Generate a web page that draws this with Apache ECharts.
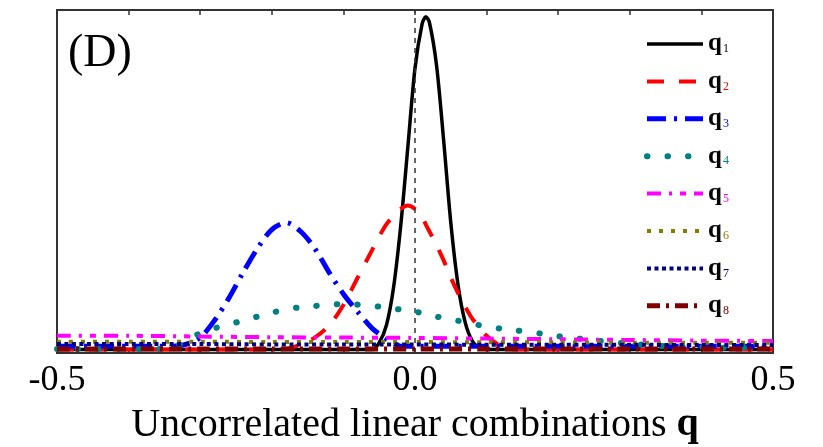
<!DOCTYPE html>
<html>
<head>
<meta charset="utf-8">
<script src="https://cdn.jsdelivr.net/npm/echarts@6/dist/echarts.min.js"></script>
<style>
html,body{margin:0;padding:0;background:#fff;}
#chart{width:823px;height:447px;}
</style>
</head>
<body>
<div id="chart"></div>
<script>
// Shared q grid for the peaked curves
const qGrid = [-0.5,-0.45,-0.4,-0.36,-0.34,-0.32,-0.30,-0.28,-0.26,-0.24,-0.22,-0.20,-0.18,-0.16,-0.14,-0.12,-0.10,-0.08,-0.06,-0.05,-0.04,-0.03,-0.02,-0.01,0,0.01,0.015,0.02,0.03,0.04,0.05,0.06,0.07,0.08,0.09,0.10,0.12,0.14,0.16,0.18,0.20,0.22,0.26,0.30,0.35,0.40,0.45,0.5];

const q1Vals = [0.01,0.01,0.01,0.01,0.01,0.01,0.01,0.01,0.01,0.01,0.01,0.01,0.01,0.01,0.01,0.01,0.01,0.01,
  0.01,0.03,0.08,0.19,0.37,0.60,0.83,0.96,0.98,0.965,0.84,0.62,0.38,0.20,0.09,0.035,0.015,
  0.01,0.01,0.01,0.01,0.01,0.01,0.01,0.01,0.01,0.01,0.01,0.01,0.01];

const q2Vals = [0.01,0.01,0.01,0.01,0.01,0.01,0.01,0.01,0.01,0.01,0.01,0.01,
  0.012,0.025,0.045,0.08,0.14,0.22,0.30,0.34,0.375,0.40,0.42,0.43,0.42,0.395,0.375,0.355,0.315,0.27,0.22,0.175,0.135,0.10,0.075,0.05,0.02,
  0.01,0.01,0.01,0.01,0.01,0.01,0.01,0.01,0.01,0.01,0.01];

const q3Vals = [0.02,0.02,0.02,0.02,0.02,0.025,0.045,0.095,0.16,0.235,0.305,0.36,0.38,0.355,0.305,0.235,0.172,0.12,0.072,0.055,0.04,0.028,0.02,
  0.02,0.02,0.02,0.02,0.02,0.02,0.02,0.02,0.02,0.02,0.02,0.02,0.02,0.02,0.02,0.02,0.02,0.02,0.02,0.02,0.02,0.02,0.02,0.02,0.02];

const q4Vals = [0.012,0.012,0.012,0.012,0.015,0.035,0.058,0.072,0.083,0.095,0.106,0.117,0.128,0.133,0.137,0.14,0.143,0.141,0.137,0.135,0.131,0.129,0.127,0.125,
  0.121,0.116,0.113,0.11,0.106,0.102,0.098,0.094,0.09,0.086,0.081,0.077,0.071,0.066,0.062,0.055,0.049,0.044,0.035,0.027,0.02,0.017,0.015,0.015];

// Coarse grid for the flat baseline curves
const baseGrid = [-0.5,-0.4,-0.3,-0.2,-0.1,0,0.1,0.2,0.3,0.4,0.5];
const q5Vals = [0.050,0.050,0.048,0.046,0.045,0.044,0.042,0.040,0.038,0.036,0.035];
const q6Vals = [0.033,0.033,0.033,0.032,0.032,0.032,0.031,0.031,0.030,0.030,0.030];
const q7Vals = [0.026,0.026,0.026,0.025,0.025,0.025,0.024,0.024,0.024,0.023,0.023];
const q8Vals = [0.012,0.012,0.012,0.012,0.012,0.012,0.012,0.012,0.012,0.012,0.012];

const seriesNames = ['q1','q2','q3','q4','q5','q6','q7','q8'];
const seriesColors = ['#000000','#ff0000','#0000ff','#008080','#ff00ff','#808000','#000080','#800000'];
const xTickLabels = ['-0.5','0.0','0.5'];
const xTitle = 'Uncorrelated linear combinations ';
const panelLabel = '(D)';

const styles = [
  {width:3.5, type:'solid', cap:'butt'},
  {width:4, type:[17,15], cap:'butt'},
  {width:5, type:[19,8,3,8], cap:'butt'},
  {width:6, type:[0.5,20], cap:'round'},
  {width:4, type:[14,8,3,8,6,8], cap:'butt'},
  {width:4, type:[4,8], cap:'butt'},
  {width:4, type:[4,3.5], cap:'butt'},
  {width:5, type:[13,6,3,6], cap:'butt'}
];

function pairs(xs, ys){ return xs.map((x,i)=>[x, ys[i]]); }
const dataSets = [
  pairs(qGrid,q1Vals), pairs(qGrid,q2Vals), pairs(qGrid,q3Vals), pairs(qGrid,q4Vals),
  pairs(baseGrid,q5Vals), pairs(baseGrid,q6Vals), pairs(baseGrid,q7Vals), pairs(baseGrid,q8Vals)
];

const serif = 'Liberation Serif';
const rich = { q: {fontFamily: serif, fontWeight:'bold', fontSize:25, color:'#000', lineHeight:22} };
seriesNames.forEach((n,i)=>{
  rich['s'+(i+1)] = {fontFamily: serif, fontSize:12, color: seriesColors[i], padding:[13,0,0,1], lineHeight:22, verticalAlign:'bottom'};
});

const series = seriesNames.map((n,i)=>{
  const s = {
    name: n, type:'line', data: dataSets[i], smooth: 0.3,
    symbol:'circle', showSymbol:false,
    lineStyle: {color: seriesColors[i], width: styles[i].width, type: styles[i].type, cap: styles[i].cap},
    itemStyle: {color: seriesColors[i]},
    z: 2 + i
  };
  if (i === 0) {
    s.markLine = {
      symbol:'none', silent:true, label:{show:false},
      lineStyle:{type:[5,5], color:'#333', width:1.5},
      data:[{xAxis:0}]
    };
  }
  return s;
});

const chart = echarts.init(document.getElementById('chart'));
function isMajor(v){ return Math.round(v*10) % 5 === 0; }
chart.setOption({
  animation:false,
  backgroundColor:'#fff',
  grid:{left:57, right:50, top:10, bottom:94, show:true, borderColor:'#333', borderWidth:2, backgroundColor:'transparent', containLabel:false, outerBoundsMode:'none'},
  legend:{
    orient:'vertical', left:639, top:25, itemWidth:56, itemHeight:14, itemGap:10.9,
    data: seriesNames.map((n,i)=>({name:n, lineStyle:{width: styles[i].width}})),
    itemStyle:{opacity:0},
    lineStyle:{width:'inherit'},
    formatter: n => '{q|q}{s' + n.slice(1) + '|' + n.slice(1) + '}',
    textStyle:{rich: rich}
  },
  xAxis:[
    {type:'value', min:-0.5, max:0.5, interval:0.1, position:'bottom',
     axisLine:{show:true, lineStyle:{color:'#333', width:2}},
     axisTick:{show:true, inside:true, length:5, lineStyle:{color:'#333', width:1.5}},
     splitLine:{show:false},
     axisLabel:{margin:10, fontFamily:serif, fontSize:36, color:'#000',
       formatter: v => isMajor(v) ? xTickLabels[Math.round(v*10)/5 + 1] : ''},
     name: '{t|' + xTitle + '}{b|q}', nameLocation:'middle', nameGap:52,
     nameTextStyle:{rich:{t:{fontFamily:serif, fontSize:40, color:'#000'}, b:{fontFamily:serif, fontSize:40, fontWeight:'bold', color:'#000'}}}
    },
    {type:'value', min:-0.5, max:0.5, interval:0.1, position:'top',
     axisLine:{show:true, lineStyle:{color:'#333', width:2}},
     axisTick:{show:true, inside:true, length:5, lineStyle:{color:'#333', width:1.5}},
     splitLine:{show:false}, axisLabel:{show:false}
    }
  ],
  yAxis:{type:'value', min:0, max:1, axisLine:{show:false}, axisTick:{show:false}, axisLabel:{show:false}, splitLine:{show:false}},
  graphic:[{type:'text', left:68, top:31, style:{text:panelLabel, font:'46px "Liberation Serif"', fill:'#000'}}],
  series: series
});
</script>
</body>
</html>
